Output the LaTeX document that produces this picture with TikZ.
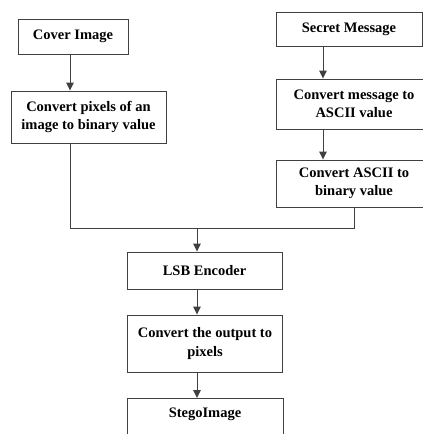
\documentclass[tikz,border=0pt]{standalone}
\usepackage{fontspec}
\setmainfont{Liberation Serif}
\usetikzlibrary{arrows.meta}
\begin{document}
\begin{tikzpicture}[x=1pt,y=-1pt,
  box/.style={draw=black!75, line width=0.9pt, rectangle, inner sep=0pt,
    align=center, font=\fontsize{14.5}{18.5}\selectfont\bfseries},
  flow/.style={draw=black!75, line width=0.9pt},
  arr/.style={flow, -{Triangle[length=8pt,width=7.5pt]}}]
  \useasboundingbox (0,0) rectangle (423,434);
  \clip (0,0) rectangle (423,434);

  % left column: cover image
  \node[box, minimum width=110pt, minimum height=35pt] (cover) at (73,36.5) {Cover Image};
  \node[box, minimum width=155pt, minimum height=52pt] (pix) at (88.5,117)
    {Convert pixels of an\\image to binary value};

  % right column: secret message
  \node[box, minimum width=146pt, minimum height=34pt] (sm) at (349,29) {Secret Message};
  \node[box, minimum width=156pt, minimum height=50pt] (cm) at (354,104)
    {Convert message to\\ASCII value};
  \node[box, minimum width=156pt, minimum height=47pt] (ca) at (354,183.5)
    {Convert ASCII to\\binary value};

  % centre column: encoding
  \node[box, minimum width=155pt, minimum height=37pt] (lsb) at (204.5,270.5) {LSB Encoder};
  \node[box, minimum width=155pt, minimum height=57pt] (out) at (205,343.5)
    {Convert the output to\\pixels};
  \node[box, minimum width=156pt, minimum height=40pt, anchor=north] (stego) at (205,398)
    {\raisebox{12pt}{StegoImage}};

  % arrow columns and the junction
  \coordinate (ax) at (70,0);
  \coordinate (bx) at (323,0);
  \coordinate (j) at (197,228);

  \draw[arr] (cover.south -| ax) -- (pix.north -| ax);
  \draw[arr] (sm.south -| bx) -- (cm.north -| bx);
  \draw[arr] (cm.south -| bx) -- (ca.north -| bx);
  \draw[flow] (pix.south -| ax) -- (ax |- j) -- (j -| ca.south) -- (ca.south);
  \draw[arr] (j) -- (lsb.north -| j);
  \draw[arr] (lsb.south -| j) -- (out.north -| j);
  \draw[arr] (out.south -| j) -- (stego.north -| j);
\end{tikzpicture}
\end{document}
